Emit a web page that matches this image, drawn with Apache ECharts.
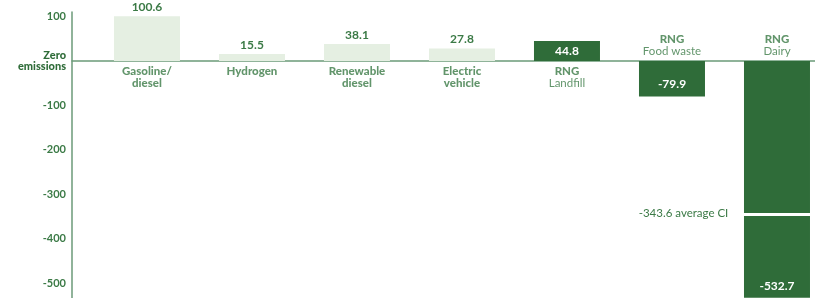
<!DOCTYPE html>
<html>
<head>
<meta charset="utf-8">
<script src="https://cdn.jsdelivr.net/npm/echarts@6/dist/echarts.min.js"></script>
<style>
  html, body { margin: 0; padding: 0; background: #fff; }
  #chart { width: 815px; height: 298px; }
</style>
</head>
<body>
<div id="chart"></div>
<script>
// chart data
const catLine1 = ['Gasoline/', 'Hydrogen', 'Renewable', 'Electric', 'RNG', 'RNG', 'RNG']
const catLine2 = ['diesel', '', 'diesel', 'vehicle', 'Landfill', 'Food waste', 'Dairy']
const isRng = [false, false, false, false, true, true, true]
const ciValues = [100.6, 15.5, 38.1, 27.8, 44.8, -79.9, -532.7]
const yTicks = [100, 0, -100, -200, -300, -400, -500]
const averageCI = -343.6

const LIGHT = '#e5efe2'
const DARK = '#2f6c39'
const TEXT = '#3b7a46'
const AXIS = '#6b9a78'
const FONT = 'Lato, "Open Sans", sans-serif'

const catRich = {
  a: { color: TEXT, fontFamily: FONT, fontWeight: 900, fontSize: 11.5, lineHeight: 12, align: 'center' },
  c: { color: TEXT, fontFamily: FONT, fontWeight: 'normal', fontSize: 11.5, lineHeight: 12, align: 'center' }
}

const chart = echarts.init(document.getElementById('chart'))

const barData = ciValues.map((v, i) => {
  let label
  if (!isRng[i]) {
    label = { show: true, position: 'top', distance: 3, color: TEXT, fontWeight: 'bold', fontSize: 12 }
  } else if (v > 0) {
    label = { show: true, position: 'inside', color: '#fff', fontWeight: 'bold', fontSize: 12 }
  } else {
    label = { show: true, position: 'insideBottom', distance: 6, color: '#fff', fontWeight: 'bold', fontSize: 12 }
  }
  return {
    value: [i, v],
    itemStyle: { color: isRng[i] ? DARK : LIGHT },
    label: label
  }
})

const catData = ciValues.map((v, i) => {
  const text = catLine2[i]
    ? `{a|${catLine1[i]}}\n{${isRng[i] ? 'c' : 'a'}|${catLine2[i]}}`
    : `{a|${catLine1[i]}}`
  return {
    value: [i, 0],
    label: {
      show: true,
      position: v > 0 ? 'bottom' : 'top',
      distance: 4,
      fontWeight: 'bold',
      formatter: text,
      rich: catRich
    }
  }
})

chart.setOption({
  animation: false,
  textStyle: { fontFamily: FONT },
  grid: { left: 72, right: 0, top: 12, bottom: 0 },
  xAxis: {
    type: 'value',
    min: -0.714,
    max: 6.362,
    axisLine: { onZero: true, lineStyle: { color: AXIS, width: 1.5 } },
    axisTick: { show: false },
    axisLabel: { show: false },
    splitLine: { show: false }
  },
  yAxis: {
    type: 'value',
    min: -533,
    max: 110,
    axisLine: { show: true, onZero: false, lineStyle: { color: AXIS, width: 1.5 } },
    axisTick: { show: false },
    splitLine: { show: false },
    axisLabel: {
      customValues: yTicks,
      margin: 6,
      color: TEXT,
      fontSize: 11,
      fontWeight: 'bold',
      lineHeight: 11,
      formatter: v => v === 0 ? '{z|Zero}\n{z|emissions}' : String(v),
      rich: {
        z: { color: '#2f6c39', fontSize: 11, fontWeight: 900, lineHeight: 11, align: 'right' }
      }
    }
  },
  series: [
    {
      type: 'bar',
      barWidth: 66,
      data: barData,
      markLine: {
        silent: true,
        symbol: 'none',
        lineStyle: { color: '#fff', width: 3, type: 'solid' },
        label: {
          show: true,
          position: 'start',
          distance: 14,
          color: TEXT,
          fontSize: 11.5,
          formatter: averageCI + ' average CI'
        },
        data: [[
          { coord: [6 - 0.33, averageCI] },
          { coord: [6 + 0.33, averageCI] }
        ]]
      }
    },
    {
      type: 'scatter',
      symbolSize: 0,
      silent: true,
      data: catData
    }
  ]
})
</script>
</body>
</html>
